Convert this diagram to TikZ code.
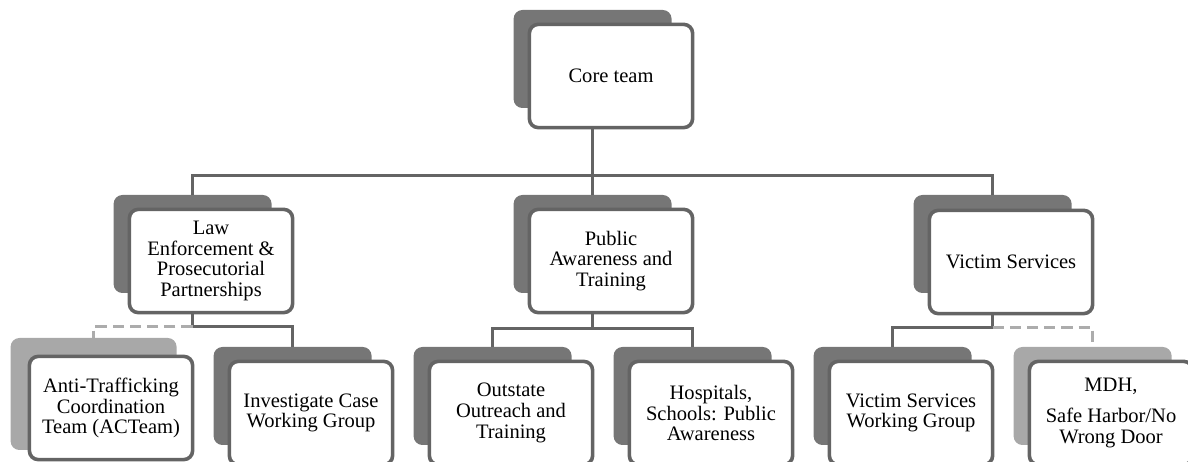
\documentclass[tikz,border=0pt]{standalone}
\usepackage{fontspec}
\setmainfont{Liberation Serif}
\usetikzlibrary{calc}

\definecolor{boxline}{RGB}{100,100,100}
\definecolor{backfill}{RGB}{118,118,118}
\definecolor{palefill}{RGB}{168,168,168}
\definecolor{paleline}{RGB}{172,172,172}

\tikzset{
	card/.style={draw=boxline, line width=0.09cm, fill=white, rounded corners=0.22cm,
		minimum width=4.08cm, minimum height=2.58cm, inner sep=0pt, align=center,
		font=\fontsize{14.6}{14.7}\selectfont},
	backcard/.style={fill=backfill, rounded corners=0.22cm, minimum width=3.95cm,
		minimum height=2.45cm, inner sep=0pt},
	lightcard/.style={backcard, fill=palefill},
	link/.style={draw=boxline, line width=0.09cm},
	dashlink/.style={draw=paleline, line width=0.09cm, dash pattern=on 0.28cm off 0.15cm},
}

\begin{document}
\begin{tikzpicture}
			%%%%% START %%%%%
			
			\clip (0, 0) rectangle (29.7, 11.55);
			
			% top
			\node[backcard] (core-sh) at (14.815, 10.075) {};
			\node[card] (core) at (15.275, 9.65) {Core team};
			
			% middle row
			\node[backcard] (law-sh) at (4.815, 5.45) {};
			\node[card] (law) at (5.275, 5.025) {Law\\Enforcement \&\\Prosecutorial\\Partnerships};
			
			\node[backcard] (pub-sh) at (14.815, 5.45) {};
			\node[card] (pub) at (15.275, 5.025) {Public\\Awareness and\\Training};
			
			\node[backcard] (vic-sh) at (24.815, 5.45) {};
			\node[card] (vic) at (25.275, 5.0) {Victim Services};
			
			% bottom row
			\node[lightcard, minimum width=4.15cm, minimum height=2.8cm] (act-sh) at (2.34, 1.7) {};
			\node[card] (act) at (2.775, 1.35) {Anti-Trafficking\\Coordination\\Team (ACTeam)};
			
			\node[backcard] (inv-sh) at (7.315, 1.65) {};
			\node[card] (inv) at (7.775, 1.225) {Investigate Case\\Working Group};
			
			\node[backcard] (out-sh) at (12.315, 1.65) {};
			\node[card] (out) at (12.775, 1.225) {Outstate\\Outreach and\\Training};
			
			\node[backcard] (hos-sh) at (17.315, 1.65) {};
			\node[card] (hos) at (17.775, 1.225) {Hospitals,\\Schools: Public\\Awareness};
			
			\node[backcard] (vwg-sh) at (22.315, 1.65) {};
			\node[card] (vwg) at (22.775, 1.225) {Victim Services\\Working Group};
			
			\node[lightcard] (mdh-sh) at (27.315, 1.65) {};
			\node[card] (mdh) at (27.775, 1.225) {MDH,\\[0.25cm]Safe Harbor/No\\Wrong Door};
			
			% connectors
			\draw[link] (core-sh |- core.south) -- ++(0, -1.15) coordinate (bus) -| (law-sh.north);
			\draw[link] (bus) -| (vic-sh.north);
			\draw[link] (bus) -- (pub-sh.north);
			
			\draw[link] (law-sh |- law.south) -- ++(0, -0.3) coordinate (lawbus) -| (inv-sh.north);
			\draw[dashlink] (lawbus) -| (act-sh.north);
			
			\draw[link] (pub-sh |- pub.south) -- ++(0, -0.35) coordinate (pubbus) -| (out-sh.north);
			\draw[link] (pubbus) -| (hos-sh.north);
			
			\draw[link] (vic-sh |- vic.south) -- ++(0, -0.3) coordinate (vicbus) -| (vwg-sh.north);
			\draw[dashlink] (vicbus) -| (mdh-sh.north);
			
			%%%%% END %%%%%
\end{tikzpicture}
\end{document}
